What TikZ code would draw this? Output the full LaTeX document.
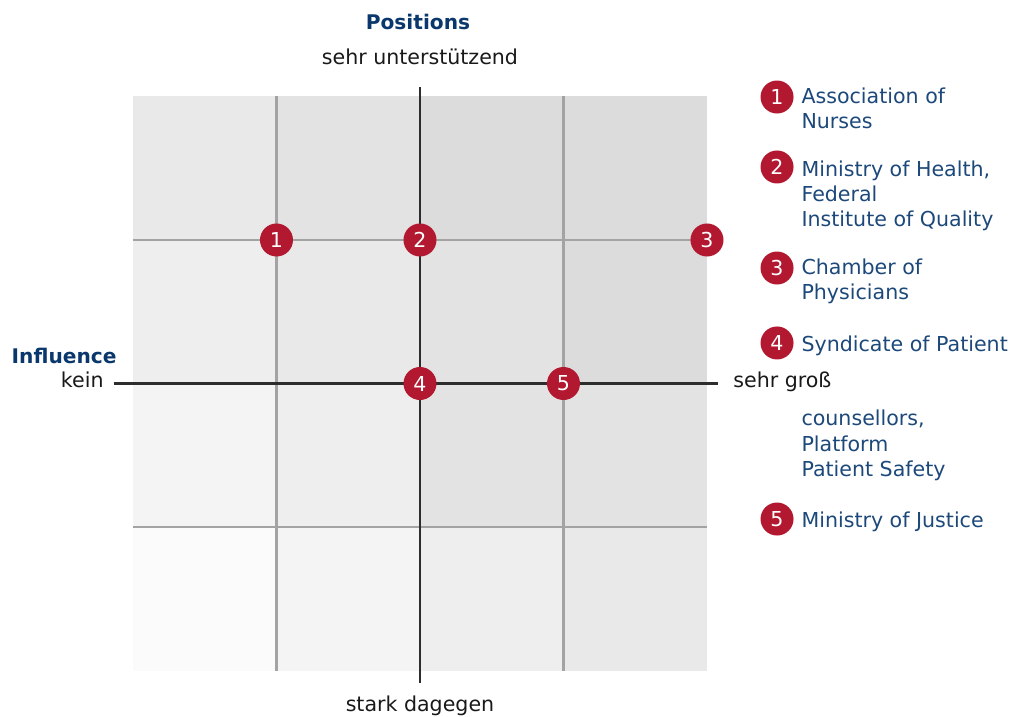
\documentclass[tikz,border=0pt]{standalone}
\usepackage{fontspec}
\setmainfont{DejaVu Sans}
\usepackage{tikz}
\usetikzlibrary{positioning}
\definecolor{markerred}{RGB}{178,24,48}
\definecolor{legendblue}{RGB}{28,72,122}
\definecolor{titleblue}{RGB}{10,56,108}
\definecolor{axisgray}{RGB}{45,45,45}
\definecolor{gridgray}{RGB}{163,163,163}
\definecolor{shadeA}{RGB}{220,220,220}
\definecolor{shadeB}{RGB}{227,227,227}
\definecolor{shadeC}{RGB}{233,233,233}
\definecolor{shadeD}{RGB}{238,238,238}
\definecolor{shadeE}{RGB}{244,244,244}
\definecolor{shadeF}{RGB}{251,251,251}

\begin{document}
\begin{tikzpicture}[
    font=\fontsize{10.2}{12.4}\selectfont,
    marker/.style={circle, fill=markerred, text=white, inner sep=0pt, minimum size=0.575cm},
    legend/.style={anchor=base west, align=left, text=legendblue, inner sep=0pt},
    axislabel/.style={anchor=base, text=black!90, inner sep=0pt},
    title/.style={anchor=base, text=titleblue, font=\fontsize{10}{12}\selectfont\bfseries, inner sep=0pt},
    gridline/.style={gridgray, line width=1.3pt},
    axis/.style={axisgray, line width=1.3pt}
]
    \useasboundingbox (-7.317,-5.810) rectangle (10.331,6.681);

    % Shaded cells, top row first
    \fill[shadeC] (-5,2.5) rectangle (-2.5,5);
    \fill[shadeB] (-2.5,2.5) rectangle (0,5);
    \fill[shadeA] (0,2.5) rectangle (2.5,5);
    \fill[shadeA] (2.5,2.5) rectangle (5,5);

    \fill[shadeD] (-5,0) rectangle (-2.5,2.5);
    \fill[shadeC] (-2.5,0) rectangle (0,2.5);
    \fill[shadeB] (0,0) rectangle (2.5,2.5);
    \fill[shadeA] (2.5,0) rectangle (5,2.5);

    \fill[shadeE] (-5,-2.5) rectangle (-2.5,0);
    \fill[shadeD] (-2.5,-2.5) rectangle (0,0);
    \fill[shadeB] (0,-2.5) rectangle (2.5,0);
    \fill[shadeB] (2.5,-2.5) rectangle (5,0);

    \fill[shadeF] (-5,-5) rectangle (-2.5,-2.5);
    \fill[shadeE] (-2.5,-5) rectangle (0,-2.5);
    \fill[shadeD] (0,-5) rectangle (2.5,-2.5);
    \fill[shadeC] (2.5,-5) rectangle (5,-2.5);

    % Grid lines
    \draw[gridline] (-2.5,-5) -- (-2.5,5);
    \draw[gridline] (2.5,-5) -- (2.5,5);
    \draw[gridline] (-5,2.5) -- (5,2.5);
    \draw[gridline] (-5,-2.5) -- (5,-2.5);

    % Axes
    \draw[axis] (0,-5.218) -- (0,5.166);
    \draw[axis] (-5.336,0) -- (5.192,0);

    % Axis titles and ends
    \node[title] (positions) at (-0.035,6.159) {Positions};
    \node[axislabel] (top) at (0,5.549) {sehr unterstützend};
    \node[axislabel] (bottom) at (0,-5.706) {stark dagegen};
    \node[title, anchor=base east] (influence) at (-5.279,0.357) {Influence};
    \node[axislabel, anchor=base east] (left) at (-5.505,-0.061) {kein};
    \node[axislabel, anchor=base west] (right) at (5.453,-0.061) {sehr groß};

    % Stakeholders on the grid
    \node[marker] (nurses) at (-2.5,2.5) {1};
    \node[marker] (health) at (0,2.5) {2};
    \node[marker] (chamber) at (5,2.5) {3};
    \node[marker] (patients) at (0,0) {4};
    \node[marker] (justice) at (2.5,0) {5};

    % Legend (multi-line texts sit on their last baseline)
    \node[marker] (key1) at (6.22,4.991) {1};
    \node[legend] (nurseskey) at (6.64,4.434) {Association of\\Nurses};

    \node[marker] (key2) at (6.22,3.772) {2};
    \node[legend] (healthkey) at (6.64,2.727) {Ministry of Health,\\Federal\\Institute of Quality};

    \node[marker] (key3) at (6.22,2.012) {3};
    \node[legend] (chamberkey) at (6.64,1.455) {Chamber of\\Physicians};

    \node[marker] (key4) at (6.22,0.706) {4};
    \node[legend] (patientskey) at (6.64,0.549) {Syndicate of Patient};
    \node[legend] (patientsmore) at (6.64,-1.612) {counsellors,\\Platform\\Patient Safety};

    \node[marker] (key5) at (6.22,-2.361) {5};
    \node[legend] (justicekey) at (6.64,-2.500) {Ministry of Justice};
\end{tikzpicture}
\end{document}
